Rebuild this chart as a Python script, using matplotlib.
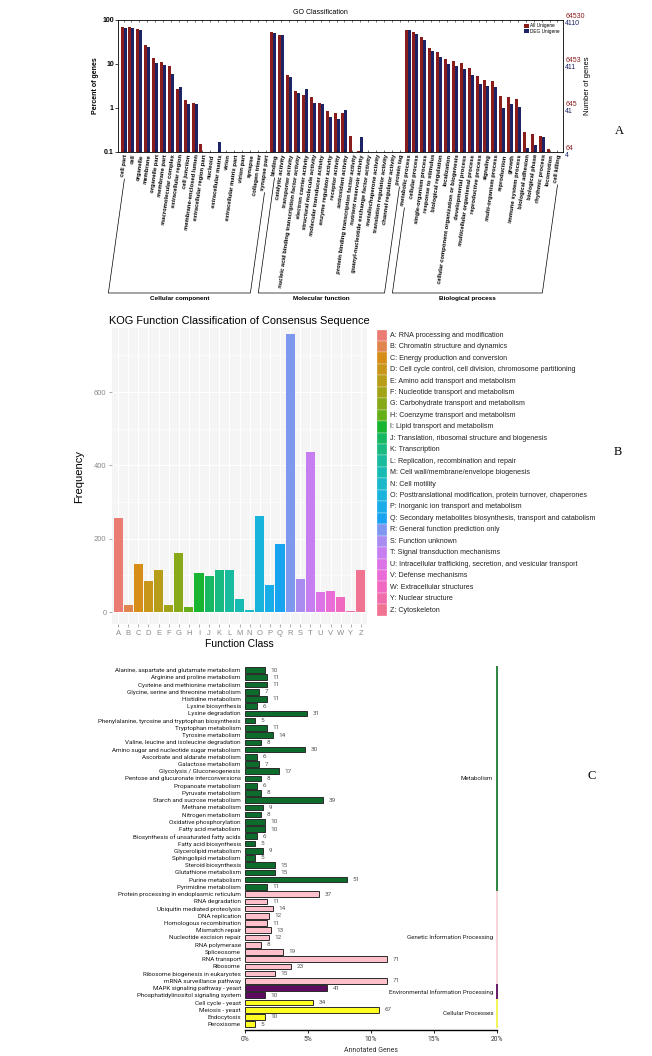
import numpy as np
import matplotlib
matplotlib.use('Agg')
import matplotlib.pyplot as plt
from matplotlib.lines import Line2D
from matplotlib.patches import Rectangle
from matplotlib.ticker import NullLocator

plt.rcParams['font.family'] = ['Liberation Sans', 'DejaVu Sans']

# ---------------- data: GO classification (percent of genes) ----------------
go_cc = ['cell part', 'cell', 'organelle', 'membrane', 'organelle part', 'membrane part',
         'macromolecular complex', 'extracellular region', 'cell junction',
         'membrane-enclosed lumen', 'extracellular region part', 'nucleoid',
         'extracellular matrix', 'virion', 'extracellular matrix part', 'virion part',
         'synapse', 'collagen trimer', 'synapse part']
go_mf = ['binding', 'catalytic activity', 'transporter activity',
         'nucleic acid binding transcription factor activity', 'electron carrier activity',
         'structural molecule activity', 'molecular transducer activity',
         'enzyme regulator activity', 'receptor activity', 'antioxidant activity',
         'protein binding transcription factor activity', 'nutrient reservoir activity',
         'guanyl-nucleotide exchange factor activity', 'metallochaperone activity',
         'translation regulator activity', 'channel regulator activity', 'protein tag']
go_bp = ['metabolic process', 'cellular process', 'single-organism process',
         'response to stimulus', 'biological regulation', 'localization',
         'cellular component organization or biogenesis', 'developmental process',
         'multicellular organismal process', 'reproductive process', 'signaling',
         'multi-organism process', 'reproduction', 'growth', 'immune system process',
         'biological adhesion', 'biological phase', 'rhythmic process', 'locomotion',
         'cell killing']
go_all_cc = [70, 68, 64, 27, 13.8, 11, 9, 2.7, 1.5, 1.33, 0.15, 0, 0, 0, 0, 0, 0, 0, 0]
go_deg_cc = [66, 66, 60, 24, 10.4, 9.7, 5.8, 3.0, 1.26, 1.22, 0, 0, 0.17, 0, 0, 0, 0, 0, 0]
go_all_mf = [54, 46, 5.5, 2.4, 1.95, 1.78, 1.29, 0.87, 0.77, 0.75, 0.235, 0.105, 0, 0, 0, 0, 0]
go_deg_mf = [50, 46, 5.1, 2.2, 2.7, 1.29, 1.25, 0.62, 0.55, 0.89, 0, 0.22, 0, 0, 0, 0, 0]
go_all_bp = [59, 54, 41, 23, 19, 12.9, 12, 10.4, 8.1, 5.3, 4.3, 4.2, 1.84, 1.78, 1.6,
             0.29, 0.25, 0.235, 0.115, 0]
go_deg_bp = [58, 49, 36, 20, 14.5, 10, 9.2, 7.8, 5.7, 3.5, 3.1, 3.0, 1.0, 1.26, 1.05,
             0.126, 0.148, 0.22, 0, 0]
go_groups = ['Cellular component', 'Molecular function', 'Biological process']
go_right_all = ['64530', '6453', '645', '64']
go_right_deg = ['4110', '411', '41', '4']

# ---------------- data: KOG ----------------
kog_letters = list('ABCDEFGHIJKLMNOPQRSTUVWYZ')
kog_counts = [258, 20, 132, 86, 114, 19, 162, 15, 107, 98, 115, 114, 37, 5, 263, 74, 187,
              758, 90, 436, 55, 58, 41, 3, 114]
kog_desc = ['RNA processing and modification', 'Chromatin structure and dynamics',
            'Energy production and conversion',
            'Cell cycle control, cell division, chromosome partitioning',
            'Amino acid transport and metabolism', 'Nucleotide transport and metabolism',
            'Carbohydrate transport and metabolism', 'Coenzyme transport and metabolism',
            'Lipid transport and metabolism', 'Translation, ribosomal structure and biogenesis',
            'Transcription', 'Replication, recombination and repair',
            'Cell wall/membrane/envelope biogenesis', 'Cell motility',
            'Posttranslational modification, protein turnover, chaperones',
            'Inorganic ion transport and metabolism',
            'Secondary metabolites biosynthesis, transport and catabolism',
            'General function prediction only', 'Function unknown',
            'Signal transduction mechanisms',
            'Intracellular trafficking, secretion, and vesicular transport',
            'Defense mechanisms', 'Extracellular structures', 'Nuclear structure',
            'Cytoskeleton']

# ---------------- data: KEGG ----------------
kegg_names = ['Alanine, aspartate and glutamate metabolism', 'Arginine and proline metabolism',
              'Cysteine and methionine metabolism', 'Glycine, serine and threonine metabolism',
              'Histidine metabolism', 'Lysine biosynthesis', 'Lysine degradation',
              'Phenylalanine, tyrosine and tryptophan biosynthesis', 'Tryptophan metabolism',
              'Tyrosine metabolism', 'Valine, leucine and isoleucine degradation',
              'Amino sugar and nucleotide sugar metabolism', 'Ascorbate and aldarate metabolism',
              'Galactose metabolism', 'Glycolysis / Gluconeogenesis',
              'Pentose and glucuronate interconversions', 'Propanoate metabolism',
              'Pyruvate metabolism', 'Starch and sucrose metabolism', 'Methane metabolism',
              'Nitrogen metabolism', 'Oxidative phosphorylation', 'Fatty acid metabolism',
              'Biosynthesis of unsaturated fatty acids', 'Fatty acid biosynthesis',
              'Glycerolipid metabolism', 'Sphingolipid metabolism', 'Steroid biosynthesis',
              'Glutathione metabolism', 'Purine metabolism', 'Pyrimidine metabolism',
              'Protein processing in endoplasmic reticulum', 'RNA degradation',
              'Ubiquitin mediated proteolysis', 'DNA replication', 'Homologous recombination',
              'Mismatch repair', 'Nucleotide excision repair', 'RNA polymerase', 'Spliceosome',
              'RNA transport', 'Ribosome', 'Ribosome biogenesis in eukaryotes',
              'mRNA surveillance pathway', 'MAPK signaling pathway - yeast',
              'Phosphatidylinositol signaling system', 'Cell cycle - yeast', 'Meiosis - yeast',
              'Endocytosis', 'Peroxisome']
kegg_counts = [10, 11, 11, 7, 11, 6, 31, 5, 11, 14, 8, 30, 6, 7, 17, 8, 6, 8, 39, 9, 8, 10,
               10, 6, 5, 9, 5, 15, 15, 51, 11,
               37, 11, 14, 12, 11, 13, 12, 8, 19, 71, 23, 15, 71,
               41, 10,
               34, 67, 10, 5]
kegg_group_names = ['Metabolism', 'Genetic Information Processing',
                    'Environmental Information Processing', 'Cellular Processes']
kegg_group_sizes = [31, 13, 2, 4]
kegg_total = 630

W, H = 652, 1056
fig = plt.figure(figsize=(W / 100, H / 100), dpi=100)


def fx(x):
    return x / W


def fy(y):
    return 1 - y / H


# ======================= Panel A: GO =======================
names = go_cc + go_mf + go_bp
all_pct = np.array(go_all_cc + go_all_mf + go_all_bp, dtype=float)
deg_pct = np.array(go_deg_cc + go_deg_mf + go_deg_bp, dtype=float)
all_pct[all_pct == 0] = np.nan
deg_pct[deg_pct == 0] = np.nan
x = np.arange(len(names))

axA = fig.add_axes([fx(118), fy(152), 445 / W, 132 / H])
axA.bar(x - 0.19, all_pct, width=0.38, color='#8B1C1C', label='All Unigene')
axA.bar(x + 0.19, deg_pct, width=0.38, color='#1C2466', label='DEG Unigene')
axA.set_yscale('log')
axA.set_ylim(0.1, 100)
axA.set_xlim(-0.7, len(names) - 0.3)
axA.yaxis.set_minor_locator(NullLocator())
axA.set_yticks([0.1, 1, 10, 100])
axA.set_yticklabels(['0.1', '1', '10', '100'], fontsize=5, fontweight='bold')
axA.set_xticks(x)
axA.set_xticklabels(names, rotation=82, ha='right', rotation_mode='anchor',
                    fontsize=4.2, fontweight='bold')
axA.tick_params(axis='x', top=True, direction='in', length=1.5, width=0.4, pad=1.5)
axA.tick_params(axis='y', length=2, width=0.5, pad=1)
for s in axA.spines.values():
    s.set_linewidth(0.6)
axA.set_ylabel('Percent of genes', fontsize=5, fontweight='bold', labelpad=2)
axA.legend(loc='upper right', fontsize=3.4, frameon=False, handlelength=0.9,
           handleheight=0.9, borderaxespad=0.3, labelspacing=0.1, handletextpad=0.3)

ytr = axA.get_yaxis_transform()
for v, a, d in zip([100, 10, 1, 0.1], go_right_all, go_right_deg):
    axA.text(1.005, v, a, transform=ytr, color='#8B1C1C', fontsize=5, va='bottom', ha='left')
    axA.text(1.005, v, d, transform=ytr, color='#1C2466', fontsize=5, va='top', ha='left')
axA.text(1.055, 0.5, 'Number of genes', transform=axA.transAxes, rotation=90,
         fontsize=5.5, va='center', ha='center')
fig.text(fx(320), fy(13), 'GO Classification', fontsize=5, ha='center', va='center')

# group brackets under the labels
fig.canvas.draw()
rend = fig.canvas.get_renderer()
tls = axA.get_xticklabels()
ybot = H - 293
t82 = np.tan(np.radians(82))
starts = [0, len(go_cc), len(go_cc) + len(go_mf)]
ends = [len(go_cc) - 1, len(go_cc) + len(go_mf) - 1, len(names) - 1]
for g, i0, i1 in zip(go_groups, starts, ends):
    b0 = tls[i0].get_window_extent(rend)
    b1 = tls[i1].get_window_extent(rend)
    x0, y0 = b0.x0 + 4, b0.y0 - 2
    x1, y1 = b1.x0 + 4, b1.y0 - 2
    xl = x0 - (y0 - ybot) / t82
    xr = x1 - (y1 - ybot) / t82
    pts = [(x0, y0), (xl, ybot), (xr, ybot), (x1, y1)]
    fig.add_artist(Line2D([p[0] / W for p in pts], [p[1] / H for p in pts],
                          transform=fig.transFigure, color='black', lw=0.5))
    fig.text((xl + xr) / 2 / W, (ybot - 3) / H, g, fontsize=4.6, fontweight='bold',
             ha='center', va='top')

fig.text(fx(619), fy(131), 'A', fontsize=9, family='Liberation Serif', ha='center', va='center')


# ======================= Panel B: KOG =======================
def hcl_color(h, c=100.0, l=65.0):
    hr = np.radians(h)
    u, v = c * np.cos(hr), c * np.sin(hr)
    xn, yn, zn = 95.047, 100.0, 108.883
    un = 4 * xn / (xn + 15 * yn + 3 * zn)
    vn = 9 * yn / (xn + 15 * yn + 3 * zn)
    Y = yn * ((l + 16) / 116) ** 3
    up = u / (13 * l) + un
    vp = v / (13 * l) + vn
    X = Y * 9 * up / (4 * vp)
    Z = Y * (12 - 3 * up - 20 * vp) / (4 * vp)
    X, Y, Z = X / 100, Y / 100, Z / 100
    r = 3.2406 * X - 1.5372 * Y - 0.4986 * Z
    g = -0.9689 * X + 1.8758 * Y + 0.0415 * Z
    b = 0.0557 * X - 0.2040 * Y + 1.0570 * Z
    out = []
    for ch in (r, g, b):
        ch = 12.92 * ch if ch <= 0.0031308 else 1.055 * ch ** (1 / 2.4) - 0.055
        ch = min(max(ch, 0), 1)
        out.append(0.85 * ch + 0.15 * 0.62)   # slightly muted like the scan
    return tuple(out)


n_kog = len(kog_letters)
hues = np.linspace(15, 375, n_kog + 1)[:n_kog]
kog_colors = [hcl_color(h) for h in hues]

axB = fig.add_axes([fx(112), fy(624), 255 / W, 296 / H])
axB.set_facecolor('#F5F5F5')
xb = np.arange(n_kog)
axB.bar(xb, kog_counts, width=0.9, color=kog_colors, zorder=3)
axB.set_xlim(-0.6, n_kog - 0.4)
axB.set_ylim(-32.5, 775)
axB.set_yticks([0, 200, 400, 600])
axB.set_yticks([100, 300, 500, 700], minor=True)
axB.set_xticks(xb)
axB.set_xticklabels(kog_letters)
axB.grid(True, which='major', color='white', lw=0.8, zorder=0)
axB.grid(True, which='minor', axis='y', color='white', lw=0.4, zorder=0)
axB.tick_params(which='major', colors='#8A8A8A', labelsize=5.5, length=2, width=0.5, pad=2)
axB.tick_params(which='minor', length=0)
for s in axB.spines.values():
    s.set_visible(False)
axB.set_ylabel('Frequency', fontsize=8, labelpad=7)
axB.set_xlabel('Function Class', fontsize=7.5, labelpad=2)
fig.text(fx(239), fy(321), 'KOG Function Classification of Consensus Sequence',
         fontsize=7.9, ha='center', va='center')

row_h = 11.45
for i, (lt, desc, col) in enumerate(zip(kog_letters, kog_desc, kog_colors)):
    top = 329.5 + i * row_h
    fig.add_artist(Rectangle((fx(377), fy(top + row_h)), 9.5 / W, row_h / H,
                             transform=fig.transFigure, facecolor=col,
                             edgecolor='white', lw=0.2))
    fig.text(fx(390), fy(top + row_h / 2), lt + ': ' + desc, fontsize=5.1,
             color='#222222', ha='left', va='center')

fig.text(fx(618), fy(452), 'B', fontsize=9, family='Liberation Serif', ha='center', va='center')

# ======================= Panel C: KEGG =======================
group_colors = ['#0D6B2B', '#FFC0CB', '#5E0A5E', '#FFFF22']
line_colors = ['#1E7B32', '#FAD0D8', '#5E0A5E', '#F2F24A']
row_colors = []
for col, n in zip(group_colors, kegg_group_sizes):
    row_colors += [col] * n
pct = np.array(kegg_counts) / kegg_total * 100
yk = np.arange(len(kegg_names))

axC = fig.add_axes([fx(245), fy(1030), 252 / W, 365 / H])
axC.barh(yk, pct, height=0.78, color=row_colors, edgecolor='#2B2B2B', lw=0.7)
axC.set_ylim(len(kegg_names) - 0.2, -0.7)
axC.set_xlim(0, 20)
axC.set_yticks(yk)
axC.set_yticklabels(kegg_names, fontsize=4.5, family='Roboto', color='#1A1A1A')
axC.set_xticks([0, 5, 10, 15, 20])
axC.set_xticklabels(['0%', '5%', '10%', '15%', '20%'], fontsize=4.8, family='Roboto',
                    color='#333333')
axC.tick_params(axis='y', length=0, pad=3)
axC.tick_params(axis='x', length=2, width=0.6, pad=2)
for side in ['left', 'right', 'top']:
    axC.spines[side].set_visible(False)
axC.spines['bottom'].set_linewidth(1.0)
axC.set_xlabel('Annotated Genes', fontsize=5, family='Roboto', color='#333333', labelpad=3)
for yy, p, c in zip(yk, pct, kegg_counts):
    axC.text(p + 0.45, yy, str(c), fontsize=4.6, family='Roboto', color='#555555',
             va='center', ha='left')

start = 0
for gname, n, lc in zip(kegg_group_names, kegg_group_sizes, line_colors):
    axC.plot([20, 20], [start - 0.5, start + n - 0.5], color=lc, lw=1.3, clip_on=False,
             solid_capstyle='butt')
    axC.text(19.7, start + (n - 1) / 2, gname, fontsize=4.4, family='Roboto',
             color='#1A1A1A', ha='right', va='center')
    start += n

fig.text(fx(592), fy(776), 'C', fontsize=9, family='Liberation Serif', ha='center', va='center')

fig.savefig('out.png', dpi=100, facecolor='white')
